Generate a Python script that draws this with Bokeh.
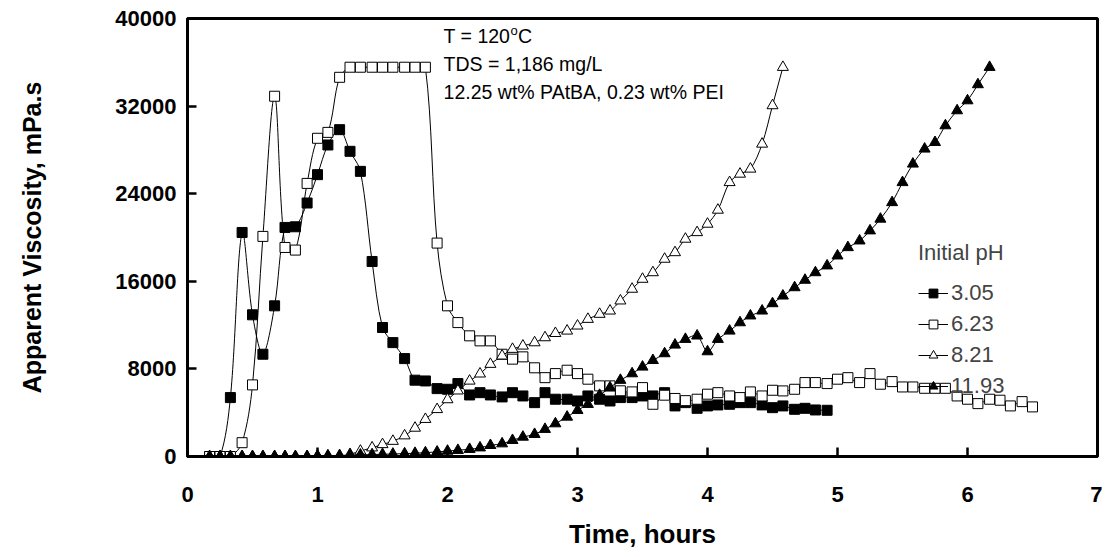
import math
from bokeh.plotting import figure
from bokeh.models import Range1d, FixedTicker, Legend, LegendItem, Label
from bokeh.embed import file_html
from bokeh.resources import INLINE

# ---- data ----
time_h = [0.17, 0.25, 0.33, 0.42, 0.5, 0.58, 0.67, 0.75, 0.83, 0.92,
          1.0, 1.08, 1.17, 1.25, 1.33, 1.42, 1.5, 1.58, 1.67, 1.75, 1.83, 1.92,
          2.0, 2.08, 2.17, 2.25, 2.33, 2.42, 2.5, 2.58, 2.67, 2.75, 2.83, 2.92,
          3.0, 3.08, 3.17, 3.25, 3.33, 3.42, 3.5, 3.58, 3.67, 3.75, 3.83, 3.92,
          4.0, 4.08, 4.17, 4.25, 4.33, 4.42, 4.5, 4.58, 4.67, 4.75, 4.83, 4.92,
          5.0, 5.08, 5.17, 5.25, 5.33, 5.42, 5.5, 5.58, 5.67, 5.75, 5.83, 5.92,
          6.0, 6.08, 6.17, 6.25, 6.33, 6.42, 6.5]

visc_ph305 = [0, 0, 5380, 20460, 12940, 9340, 13760, 20920, 20980, 23150,
              25740, 28450, 29850, 27870, 26040, 17810, 11780, 10400, 8940, 6970, 6900, 6200,
              6140, 6660, 5620, 5830, 5620, 5440, 5830, 5530, 4920, 5830, 5230, 5230,
              5070, 5530, 5230, 5070, 5380, 5380, 5530, 5530, 5830, 4620, 4920, 4400,
              4620, 4710, 4770, 4920, 4920, 4710, 4460, 4620, 4310, 4400, 4250, 4220]

visc_ph623 = [0, 0, 0, 1260, 6540, 20100, 32900, 19090, 18850, 24940,
              29060, 29600, 34630, 35550, 35550, 35550, 35550, 35550, 35550, 35550, 35550, 19490,
              13760, 12230, 11020, 10560, 10560, 9340, 8890, 9100, 8100, 7200, 7570, 7880,
              7570, 7060, 6450, 6450, 6000, 5900, 6290, 4770, 5600, 5300, 5100, 5230,
              5690, 5830, 5530, 5380, 5900, 5530, 6050, 5990, 6140, 6750, 6750, 6660,
              7060, 7200, 6750, 7570, 6600, 6840, 6350, 6350, 6230, 6230, 6230, 5530,
              5230, 4830, 5230, 5140, 4620, 5010, 4530]

visc_ph821 = [0, 0, 0, 0, 0, 0, 0, 0, 0, 0,
              0, 0, 0, 200, 500, 800, 1100, 1400, 1900, 2600, 3400, 4300,
              5200, 6000, 6900, 7550, 8430, 9190, 9800, 10100, 10400, 10860, 11250, 11470,
              11930, 12540, 13000, 13300, 14220, 15290, 16200, 16800, 18030, 18630, 19860, 20460,
              21230, 22510, 25030, 25800, 26260, 28540, 32050, 35550]

visc_ph1193 = [0, 0, 0, 0, 0, 0, 0, 0, 0, 0,
               50, 80, 100, 120, 150, 180, 200, 230, 260, 300, 350, 420,
               500, 570, 660, 800, 1020, 1170, 1480, 1780, 2030, 2490, 3000, 3610,
               4220, 4770, 5600, 6290, 6970, 7570, 8180, 8780, 9400, 10190, 10710, 11020,
               9580, 10710, 11470, 12230, 12850, 13300, 13970, 14670, 15430, 16110, 16800, 17420,
               18330, 19090, 19700, 20620, 21690, 23200, 25030, 26720, 28090, 28690, 30220, 31590,
               32500, 33970, 35550]

series_labels = ["3.05", "6.23", "8.21", "11.93"]
x_ticks = [0, 1, 2, 3, 4, 5, 6, 7]
y_ticks = [0, 8000, 16000, 24000, 32000, 40000]

FONT = "Liberation Sans"
FRAME_W, FRAME_H = 910, 438
X_MAX, Y_MAX = 7, 40000

p = figure(frame_width=FRAME_W, frame_height=FRAME_H, output_backend="svg", toolbar_location=None,
           x_range=Range1d(0, X_MAX), y_range=Range1d(0, Y_MAX),
           min_border_left=187, min_border_right=5, min_border_top=18, min_border_bottom=99,
           background_fill_color="white", border_fill_color="white")
p.grid.visible = False
p.outline_line_color = "black"
p.outline_line_width = 3

for ax in (p.xaxis[0], p.yaxis[0]):
    ax.axis_line_color = "black"
    ax.axis_line_width = 3
    ax.major_tick_in = 9
    ax.major_tick_out = 0
    ax.major_tick_line_width = 2.5
    ax.minor_tick_line_color = None
    ax.major_label_text_font = FONT
    ax.major_label_text_font_style = "bold"
    ax.major_label_text_font_size = "22px"
    ax.axis_label_text_font = FONT
    ax.axis_label_text_font_style = "bold"
    ax.axis_label_text_color = "black"
    ax.major_label_text_color = "black"

p.xaxis[0].ticker = FixedTicker(ticks=x_ticks)
p.yaxis[0].ticker = FixedTicker(ticks=y_ticks)
p.xaxis[0].axis_label = "Time, hours"
p.yaxis[0].axis_label = "Apparent Viscosity, mPa.s"
p.xaxis[0].axis_label_text_font_size = "26px"
p.yaxis[0].axis_label_text_font_size = "25px"
p.xaxis[0].major_label_standoff = 30
p.xaxis[0].axis_label_standoff = 14
p.yaxis[0].major_label_standoff = 11
p.yaxis[0].axis_label_standoff = 66


def smooth_bezier(xs, ys, f=1.0 / 3.0):
    """Cubic Bezier segments through the data points (spreadsheet-style smoothed line),
    tangent lengths proportional to the neighbouring segment lengths on screen."""
    kx, ky = FRAME_W / X_MAX, FRAME_H / Y_MAX
    n = len(xs)

    def dist(i, j):
        return math.hypot((xs[j] - xs[i]) * kx, (ys[j] - ys[i]) * ky)

    out_c, in_c = [], []
    for i in range(n):
        ia, ib = max(i - 1, 0), min(i + 1, n - 1)
        tx, ty = xs[ib] - xs[ia], ys[ib] - ys[ia]
        dp = dist(ia, i)
        dn = dist(i, ib)
        s = dp + dn
        wp = dp / s if s > 0 else 0.5
        wn = dn / s if s > 0 else 0.5
        in_c.append((xs[i] - tx * f * wp, ys[i] - ty * f * wp))
        out_c.append((xs[i] + tx * f * wn, ys[i] + ty * f * wn))
    d = dict(x0=[], y0=[], x1=[], y1=[], cx0=[], cy0=[], cx1=[], cy1=[])
    for i in range(n - 1):
        d["x0"].append(xs[i]); d["y0"].append(ys[i])
        d["x1"].append(xs[i + 1]); d["y1"].append(ys[i + 1])
        d["cx0"].append(out_c[i][0]); d["cy0"].append(out_c[i][1])
        d["cx1"].append(in_c[i + 1][0]); d["cy1"].append(in_c[i + 1][1])
    return d


styles = [
    dict(marker="square", fill_color="black", size=10),
    dict(marker="square", fill_color="white", size=10),
    dict(marker="triangle", fill_color="white", size=11),
    dict(marker="triangle", fill_color="black", size=11),
]
all_series = [visc_ph305, visc_ph623, visc_ph821, visc_ph1193]

items = []
for lab, vals, st in zip(series_labels, all_series, styles):
    xs = time_h[:len(vals)]
    seg = smooth_bezier(xs, vals)
    br = p.bezier(x0=seg["x0"], y0=seg["y0"], x1=seg["x1"], y1=seg["y1"],
                  cx0=seg["cx0"], cy0=seg["cy0"], cx1=seg["cx1"], cy1=seg["cy1"],
                  line_color="black", line_width=1)
    sr = p.scatter(x=xs, y=vals, marker=st["marker"], size=st["size"],
                   fill_color=st["fill_color"], line_color="black", line_width=1)
    items.append(LegendItem(label=lab, renderers=[br, sr]))

legend = Legend(items=items, location=(731, 57), title="Initial pH",
                title_text_font=FONT, title_text_font_size="22px", title_text_font_style="normal",
                title_standoff=14, label_text_font=FONT, label_text_font_size="22px",
                glyph_width=30, glyph_height=22, label_height=22, label_standoff=3,
                spacing=5, padding=0, margin=0,
                background_fill_alpha=0, border_line_alpha=0)
p.add_layout(legend)

# annotation block
ann_x = 1.97
ANN_SIZE = "19.5px"
for txt, yv in [("TDS = 1,186 mg/L", 35850), ("12.25 wt% PAtBA, 0.23 wt% PEI", 33260)]:
    p.add_layout(Label(x=ann_x, y=yv, text=txt, text_font=FONT, text_font_size=ANN_SIZE,
                       text_baseline="middle", text_color="black"))
p.add_layout(Label(x=ann_x, y=38380, text="T = 120", text_font=FONT, text_font_size=ANN_SIZE,
                   text_baseline="middle", text_color="black"))
p.add_layout(Label(x=ann_x, y=38380, x_offset=67, y_offset=6, text="o", text_font=FONT,
                   text_font_size="13px", text_baseline="middle", text_color="black"))
p.add_layout(Label(x=ann_x, y=38380, x_offset=74.5, text="C", text_font=FONT,
                   text_font_size=ANN_SIZE, text_baseline="middle", text_color="black"))

open("out.html", "w").write(file_html(p, INLINE))
